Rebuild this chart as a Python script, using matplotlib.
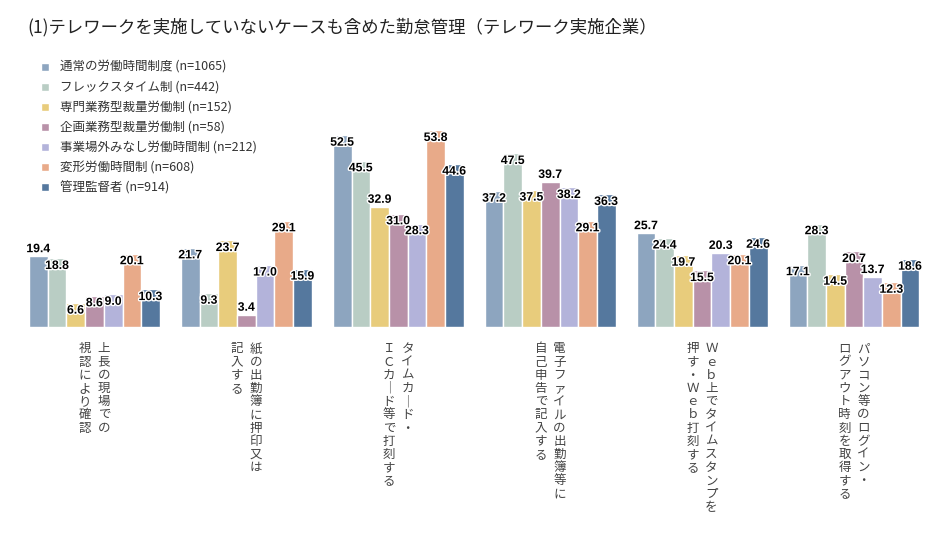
import matplotlib
matplotlib.use("Agg")
import matplotlib.pyplot as plt
import matplotlib.patheffects as pe
import numpy as np

plt.rcParams['font.family'] = ['Noto Sans CJK JP', 'DejaVu Sans']

# data
series = ["通常の労働時間制度 (n=1065)", "フレックスタイム制 (n=442)", "専門業務型裁量労働制 (n=152)",
          "企画業務型裁量労働制 (n=58)", "事業場外みなし労働時間制 (n=212)", "変形労働時間制 (n=608)",
          "管理監督者 (n=914)"]
colors = ["#8da5bf", "#b9cdc4", "#e8cc7c", "#b891a8", "#b3b3da", "#e8aa89", "#55789e"]

# category labels, written as vertical columns (right column first)
categories = [
    ["上長の現場での", "視認により確認"],
    ["紙の出勤簿に押印又は", "記入する"],
    ["タイムカ｜ド・", "ＩＣカ｜ド等で打刻する"],
    ["電子ファイルの出勤簿等に", "自己申告で記入する"],
    ["Ｗｅｂ上でタイムスタンプを", "押す・Ｗｅｂ打刻する"],
    ["パソコン等のログイン・", "ログアウト時刻を取得する"],
]

values = np.array([
    [19.4, 18.8, 6.6, 8.6, 9.0, 20.1, 10.3],
    [21.7, 9.3, 23.7, 3.4, 17.0, 29.1, 15.9],
    [52.5, 45.5, 32.9, 31.0, 28.3, 53.8, 44.6],
    [37.2, 47.5, 37.5, 39.7, 38.2, 29.1, 36.3],
    [25.7, 24.4, 19.7, 15.5, 20.3, 20.1, 24.6],
    [17.1, 28.3, 14.5, 20.7, 13.7, 12.3, 18.6],
])

# labels that sit above the bar instead of inside its top
above = {(0, 0), (1, 3), (2, 2), (3, 3), (4, 0), (4, 4), (5, 4)}

fig = plt.figure(figsize=(9.5, 5.38), dpi=100)
ax = fig.add_axes([18.5 / 950, 0.392, 911.5 / 950, 0.408])

w = 0.1231
x = np.arange(len(categories))
for j in range(len(series)):
    xs = x + (j - 3) * w
    ax.bar(xs, values[:, j], width=w, color=colors[j], edgecolor="white", linewidth=1.0,
           label=series[j])
    for i in range(len(categories)):
        v = values[i, j]
        dy = 5 if (i, j) in above else -5.5
        ax.annotate(f"{v:.1f}", (xs[i], v), xytext=(0, dy), textcoords="offset points",
                    ha="center", va="center", fontsize=8.8, fontweight="bold",
                    family=["Liberation Sans", "DejaVu Sans"], color="black",
                    path_effects=[pe.withStroke(linewidth=2.0, foreground="white")])

ax.set_xlim(-0.5, 5.5)
ax.set_ylim(0, 60)
ax.axis("off")

# vertical category labels
for i, cols in enumerate(categories):
    n = len(cols)
    for k, col in enumerate(cols):
        dx = (n - 1) / 2 - k
        ax.annotate("\n".join(col), (x[i], 0), xytext=(dx * 13.5, -11), textcoords="offset points",
                    ha="center", va="top", fontsize=9, color="#444444", linespacing=1.02,
                    annotation_clip=False)

fig.text(27 / 950, 1 - 27 / 538, "(1)テレワークを実施していないケースも含めた勤怠管理（テレワーク実施企業）",
         fontsize=12.5, color="#222222", va="center", ha="left")

fig.legend(loc="upper left", bbox_to_anchor=(41 / 950, 1 - 61 / 538), frameon=False,
           fontsize=9, handlelength=0.6, handleheight=0.6, handletextpad=0.9,
           labelspacing=0.56, borderpad=0, borderaxespad=0, labelcolor="#333333")

fig.savefig("out.png", dpi=100)
